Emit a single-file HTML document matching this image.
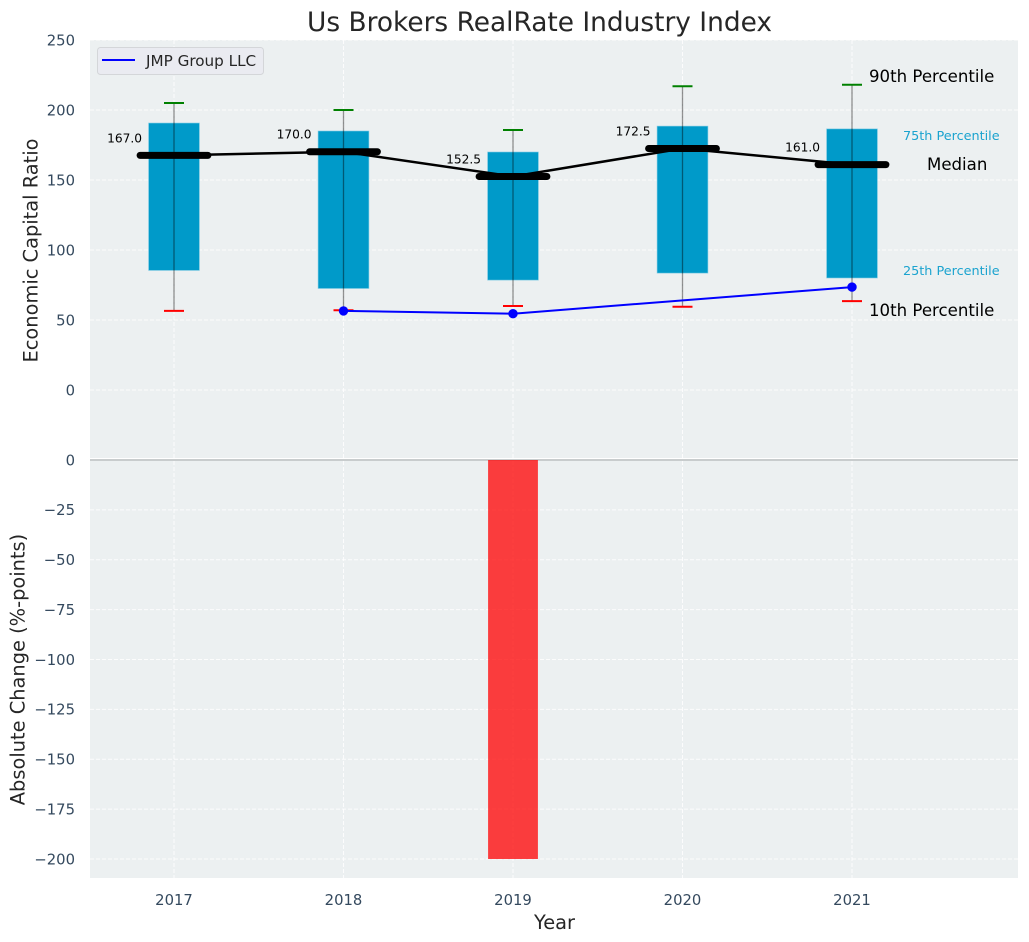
<!DOCTYPE html>
<html lang="en">
<head>
<meta charset="utf-8">
<title>Us Brokers RealRate Industry Index</title>
<style>
html,body{margin:0;padding:0;background:#fff;}
svg{display:block;font-family:"DejaVu Sans","Liberation Sans",sans-serif;}
</style>
</head>
<body>
<svg id="chart" xmlns="http://www.w3.org/2000/svg" width="1029" height="942" viewBox="0 0 1029 942">
<rect x="90" y="40" width="928" height="419.5" fill="#ecf0f1"/>
<rect x="90" y="459.5" width="928" height="418.5" fill="#ecf0f1"/>
<text x="539.5" y="31" text-anchor="middle" font-size="26.4" fill="#262626">Us Brokers RealRate Industry Index</text>
<text transform="translate(37.5,250.5) rotate(-90)" text-anchor="middle" font-size="19.4" fill="#262626">Economic Capital Ratio</text>
<text transform="translate(24.5,669.5) rotate(-90)" text-anchor="middle" font-size="19.4" fill="#262626">Absolute Change (%-points)</text>
<text x="554.5" y="929" text-anchor="middle" font-size="19.4" fill="#262626">Year</text>
<g id="marks"></g>
<g>
<rect x="97.5" y="47.5" width="166" height="27" rx="3" fill="#eaebf1" stroke="#d4d6d9" stroke-width="1"/>
<line x1="102" y1="60" x2="135" y2="60" stroke="#0000ff" stroke-width="2"/>
<text x="146" y="66" font-size="15.2" fill="#262626">JMP Group LLC</text>
</g>
</svg>
<script>
const years = [2017, 2018, 2019, 2020, 2021];
const p90 = [205, 200, 185.7, 217, 218];
const p75 = [190.7, 185, 170, 188.5, 186.5];
const medians = [167.6, 170.2, 152.5, 172.5, 161];
const medianLabels = ['167.0', '170.0', '152.5', '172.5', '161.0'];
const p25 = [85.4, 72.5, 78.5, 83.5, 80];
const p10 = [56.5, 57, 60, 59.5, 63.5];
const jmpValues = [null, 56.5, 54.5, null, 73.5];
const changes = [null, null, -200, null, null];
const topTicks = [250, 200, 150, 100, 50, 0];
const bottomTicks = [0, -25, -50, -75, -100, -125, -150, -175, -200];

const NS = 'http://www.w3.org/2000/svg';
const root = document.getElementById('marks');
const xScale = function (year) { return 174 + (year - 2017) * 169.5; };
const yTop = function (v) { return 390 - v * 1.4; };
const yBottom = function (v) { return 460 - v * 1.995; };
const boxHalf = 0.15;
const barHalf = 0.147;
const medianHalf = 0.2;
const capHalf = 10;

function mk(tag, attrs, text) {
  const node = document.createElementNS(NS, tag);
  for (const key in attrs) node.setAttribute(key, attrs[key]);
  if (text !== undefined) node.textContent = text;
  root.appendChild(node);
  return node;
}
function fmt(v) { return String(v).replace('-', '\u2212'); }

topTicks.forEach(function (t) {
  const y = yTop(t);
  const grid = mk('line', {x1: 90, x2: 1018, y1: y, y2: y, stroke: '#ffffff', 'stroke-width': 1.1, 'stroke-dasharray': '4 2', opacity: 0.85});
  
  
  const label = mk('text', {x: 75, y: y + 5.3, 'text-anchor': 'end', 'font-size': 14.8, fill: '#34495e'}, fmt(t));
  
  
});

bottomTicks.forEach(function (t) {
  const y = yBottom(t);
  if (t !== 0) {
    const grid = mk('line', {x1: 90, x2: 1018, y1: y, y2: y, stroke: '#ffffff', 'stroke-width': 1.1, 'stroke-dasharray': '4 2', opacity: 0.85});
    
    
  }
  const label = mk('text', {x: 75, y: y + 5.3, 'text-anchor': 'end', 'font-size': 14.8, fill: '#34495e'}, fmt(t));
  
  
});

years.forEach(function (yr) {
  const x = xScale(yr);
  const gridTop = mk('line', {x1: x, x2: x, y1: 40, y2: 458, stroke: '#ffffff', 'stroke-width': 1.1, 'stroke-dasharray': '4 2', opacity: 0.85});
  
  
  const gridBottom = mk('line', {x1: x, x2: x, y1: 461, y2: 878, stroke: '#ffffff', 'stroke-width': 1.1, 'stroke-dasharray': '4 2', opacity: 0.85});
  
  
  const label = mk('text', {x: x, y: 905, 'text-anchor': 'middle', 'font-size': 14.8, fill: '#34495e'}, String(yr));
  
  
});

const divider = mk('line', {x1: 90, x2: 1018, y1: 458.5, y2: 458.5, stroke: '#ffffff', 'stroke-width': 1});


const baseline = mk('line', {x1: 90, x2: 1018, y1: 460, y2: 460, stroke: '#bcbfc1', 'stroke-width': 1.5});



changes.forEach(function (v, i) {
  if (v === null) return;
  const x0 = xScale(years[i] - barHalf);
  const x1 = xScale(years[i] + barHalf);
  const bar = mk('rect', {x: x0, y: yBottom(0), width: x1 - x0, height: yBottom(v) - yBottom(0), fill: '#ff0000', 'fill-opacity': 0.75});
  
  
});

years.forEach(function (yr, i) {
  const x0 = xScale(yr - boxHalf);
  const x1 = xScale(yr + boxHalf);
  const box = mk('rect', {x: x0, y: yTop(p75[i]), width: x1 - x0, height: yTop(p25[i]) - yTop(p75[i]), fill: '#009ac9', stroke: '#7fcbe4', 'stroke-width': 0.6});
  
  
});

const medianPoints = years.map(function (yr, i) { return xScale(yr) + ',' + yTop(medians[i]); }).join(' ');
const medianLine = mk('polyline', {points: medianPoints, fill: 'none', stroke: '#000000', 'stroke-width': 2.5});



years.forEach(function (yr, i) {
  const x = xScale(yr);
  const stem = mk('line', {x1: x, x2: x, y1: yTop(p90[i]), y2: yTop(p10[i]), stroke: '#000000', 'stroke-opacity': 0.42, 'stroke-width': 1.3});
  
  
  const capHigh = mk('line', {x1: x - capHalf, x2: x + capHalf, y1: yTop(p90[i]), y2: yTop(p90[i]), stroke: '#008000', 'stroke-width': 2});
  
  
  const capLow = mk('line', {x1: x - capHalf, x2: x + capHalf, y1: yTop(p10[i]), y2: yTop(p10[i]), stroke: '#ff0000', 'stroke-width': 2});
  
  
  const med = mk('line', {x1: xScale(yr - medianHalf), x2: xScale(yr + medianHalf), y1: yTop(medians[i]), y2: yTop(medians[i]), stroke: '#000000', 'stroke-width': 7, 'stroke-linecap': 'round'});
  
  
  const medLabel = mk('text', {x: x - 32, y: yTop(medians[i]) - 13, 'text-anchor': 'end', 'font-size': 12.2, fill: '#000000'}, medianLabels[i]);
  
  
});

const jmpPoints = [];
years.forEach(function (yr, i) {
  if (jmpValues[i] !== null) jmpPoints.push(xScale(yr) + ',' + yTop(jmpValues[i]));
});
const jmpLine = mk('polyline', {points: jmpPoints.join(' '), fill: 'none', stroke: '#0000ff', 'stroke-width': 2});


years.forEach(function (yr, i) {
  if (jmpValues[i] === null) return;
  const dot = mk('circle', {cx: xScale(yr), cy: yTop(jmpValues[i]), r: 4.7, fill: '#0000ff'});
  
  
});

const last = years.length - 1;
const lastX = xScale(years[last]);
const note90 = mk('text', {x: lastX + 17, y: yTop(p90[last]) - 3, 'font-size': 16.6, fill: '#000000'}, '90th Percentile');


const note75 = mk('text', {x: lastX + 51, y: yTop(p75[last]) + 11, 'font-size': 12.8, fill: '#1ba3cf'}, '75th Percentile');


const noteMedian = mk('text', {x: lastX + 75, y: yTop(medians[last]) + 5.5, 'font-size': 16.6, fill: '#000000'}, 'Median');


const note25 = mk('text', {x: lastX + 51, y: yTop(p25[last]) - 3, 'font-size': 12.8, fill: '#1ba3cf'}, '25th Percentile');


const note10 = mk('text', {x: lastX + 17, y: yTop(p10[last]) + 15, 'font-size': 16.6, fill: '#000000'}, '10th Percentile');


</script>
</body>
</html>
